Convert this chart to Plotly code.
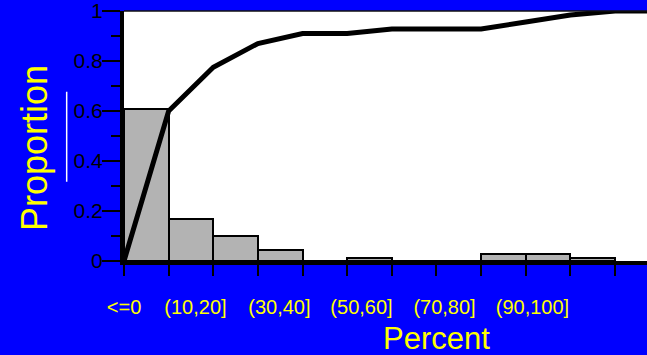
import plotly.graph_objects as go

# ---- data ----
bin_index = [0, 1, 2, 3, 4, 5, 6, 7, 8, 9, 10]
bar_props = [0.61, 0.17, 0.10, 0.043, 0.0, 0.014, 0.0, 0.0, 0.03, 0.03, 0.014]
cdf_x = [0, 1, 2, 3, 4, 5, 6, 7, 8, 9, 10, 11, 12]
cdf_y = [0.0, 0.60, 0.775, 0.87, 0.91, 0.91, 0.928, 0.928, 0.928, 0.956, 0.984, 1.0, 1.0]
x_label_pos = [0.0, 1.6, 3.48, 5.32, 7.18, 9.15]
x_label_text = ["<=0", "(10,20]", "(30,40]", "(50,60]", "(70,80]", "(90,100]"]
x_tick_pos = list(range(0, 12))
y_tick_vals = [0, 0.2, 0.4, 0.6, 0.8, 1.0]
y_tick_text = ["0", "0.2", "0.4", "0.6", "0.8", "1"]

FONT = "Liberation Sans, Arial, sans-serif"
BLUE = "#0000FF"
YELLOW = "#FFFF00"

fig = go.Figure()
fig.add_trace(go.Bar(
    x=[b + 0.5 for b in bin_index], y=bar_props, width=1,
    marker=dict(color="#B3B3B3", line=dict(color="black", width=2)),
    showlegend=False, hoverinfo="skip",
))
fig.add_trace(go.Scatter(
    x=cdf_x, y=cdf_y, mode="lines",
    line=dict(color="black", width=5),
    showlegend=False, hoverinfo="skip",
))
# invisible trace on the label axis
fig.add_trace(go.Scatter(x=[0], y=[0], xaxis="x2", mode="markers",
                         marker=dict(opacity=0), showlegend=False, hoverinfo="skip"))

XR = [0, 11.716]
fig.update_layout(
    width=647, height=355,
    margin=dict(l=124, r=0, t=11, b=94),
    paper_bgcolor=BLUE, plot_bgcolor="white",
    font=dict(family=FONT),
    bargap=0,
    xaxis=dict(
        range=XR, showgrid=False, zeroline=False,
        showline=True, linecolor="black", linewidth=4,
        tickmode="array", tickvals=x_tick_pos, ticktext=[""] * len(x_tick_pos),
        ticks="outside", ticklen=11, tickwidth=2, tickcolor="black",
    ),
    xaxis2=dict(
        range=XR, overlaying="x", side="bottom", showgrid=False, zeroline=False,
        showline=False, tickmode="array", tickvals=x_label_pos, ticktext=x_label_text,
        ticks="outside", ticklen=28, tickcolor="rgba(0,0,0,0)",
        tickfont=dict(family=FONT, size=20, color=YELLOW),
    ),
    yaxis=dict(
        range=[0, 1], showgrid=False, zeroline=False,
        showline=True, linecolor="black", linewidth=4,
        tickmode="array", tickvals=y_tick_vals, ticktext=y_tick_text,
        ticks="outside", ticklen=18, tickwidth=2, tickcolor="black",
        tickfont=dict(family=FONT, size=21, color="black"),
        ticklabeloverflow="allow", ticklabelstandoff=-5,
        minor=dict(tickmode="array", tickvals=[0.1, 0.3, 0.5, 0.7, 0.9],
                   ticks="outside", ticklen=9, tickwidth=2, tickcolor="black"),
    ),
    shapes=[
        dict(type="line", xref="paper", yref="paper", x0=0, x1=1, y0=1, y1=1,
             line=dict(color="#111111", width=1.5)),
        dict(type="line", xref="paper", yref="paper", x0=-0.1096, x1=-0.1096,
             y0=0.317, y1=0.677, line=dict(color="white", width=1.5)),
    ],
    annotations=[
        dict(text="Percent", xref="paper", yref="paper", x=0.597, y=-0.308,
             xanchor="center", yanchor="middle", showarrow=False,
             font=dict(family=FONT, size=31, color=YELLOW)),
        dict(text="Proportion", xref="paper", yref="paper", x=-0.172, y=0.452,
             xanchor="center", yanchor="middle", textangle=-90, showarrow=False,
             font=dict(family=FONT, size=36, color=YELLOW)),
    ],
)

fig.write_html(
    "out.html",
    config={"displayModeBar": False},
    post_script="document.body.style.margin='0';document.body.style.background='#0000FF';",
)
